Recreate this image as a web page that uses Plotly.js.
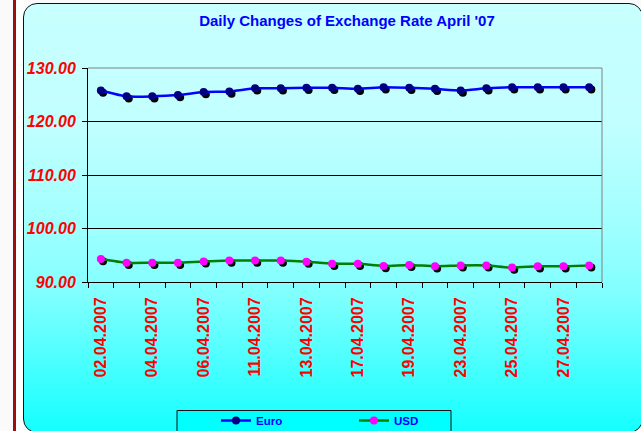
<!DOCTYPE html>
<html>
<head>
<meta charset="utf-8">
<script src="https://cdn.plot.ly/plotly-3.0.1.min.js"></script>
<style>
  html, body { margin: 0; padding: 0; background: #ffffff; overflow: hidden; }
  #wrap { position: relative; width: 641px; height: 431px; overflow: hidden; background: #fafafa; }
  #redbar { position: absolute; left: 13px; top: 0; width: 3px; height: 431px; background: #9a1010; }
  #gap { position: absolute; left: 16px; top: 0; width: 8px; height: 431px; background: #ffffff; }
  #box { position: absolute; left: 23px; top: 3px; width: 620px; height: 430px; box-sizing: border-box;
         border: 1.6px solid #111; border-radius: 14px;
         background: linear-gradient(to bottom, #c8ffff 0%, #c2ffff 28%, #a0ffff 52%, #80ffff 68%, #14ffff 100%); }
  #chart { position: absolute; left: 0; top: 0; width: 641px; height: 431px; }
  #chart g.y2tick text, #chart g.ytick text { font-style: italic !important; }
</style>
</head>
<body>
<div id="wrap">
  <div id="redbar"></div>
  <div id="gap"></div>
  <div id="box"></div>
  <div id="chart"></div>
</div>
<script>
const dates = ['02.04.2007','03.04.2007','04.04.2007','05.04.2007','06.04.2007','10.04.2007','11.04.2007',
  '12.04.2007','13.04.2007','16.04.2007','17.04.2007','18.04.2007','19.04.2007','20.04.2007','23.04.2007',
  '24.04.2007','25.04.2007','26.04.2007','27.04.2007','30.04.2007'];
const tickLabels = ['02.04.2007','','04.04.2007','','06.04.2007','','11.04.2007','','13.04.2007','',
  '17.04.2007','','19.04.2007','','23.04.2007','','25.04.2007','','27.04.2007',''];
const euro = [125.8,124.7,124.7,124.95,125.5,125.6,126.2,126.2,126.3,126.3,126.1,126.4,126.3,126.1,125.8,126.2,126.4,126.4,126.4,126.4];
const usd  = [94.3,93.6,93.6,93.6,93.85,94.0,94.0,94.0,93.8,93.4,93.4,93.0,93.2,92.95,93.1,93.1,92.7,92.95,92.95,93.1];
const yTicks = [90,100,110,120,130];
const seriesNames = ['Euro','USD'];

const W = 641, H = 431;
const M = {l: 88, r: 39, t: 68, b: 149};
const plotW = W - M.l - M.r, plotH = H - M.t - M.b;
const xRange = [-0.5, dates.length - 0.5];
const yRange = [90, 130];
const shadowPx = 2.2;
const sx = shadowPx * (xRange[1] - xRange[0]) / plotW;
const sy = shadowPx * (yRange[1] - yRange[0]) / plotH;

const FONT = 'Arial, "Liberation Sans", sans-serif';

const traces = [
  {x: dates, y: euro, xaxis: 'x', yaxis: 'y', type: 'scatter', mode: 'markers', showlegend: false, hoverinfo: 'skip',
   marker: {color: '#000000', size: 8}},
  {x: dates, y: usd, xaxis: 'x', yaxis: 'y', type: 'scatter', mode: 'markers', showlegend: false, hoverinfo: 'skip',
   marker: {color: '#000000', size: 8}},
  {x: dates, y: euro, name: seriesNames[0], xaxis: 'x2', yaxis: 'y2', type: 'scatter', mode: 'lines+markers',
   line: {color: '#0000ff', width: 2.5, shape: 'spline', smoothing: 0.6},
   marker: {color: '#000080', size: 8}},
  {x: dates, y: usd, name: seriesNames[1], xaxis: 'x2', yaxis: 'y2', type: 'scatter', mode: 'lines+markers',
   line: {color: '#008000', width: 2.5, shape: 'spline', smoothing: 0.6},
   marker: {color: '#ff00ff', size: 8}}
];

const layout = {
  width: W, height: H,
  margin: M,
  paper_bgcolor: 'rgba(0,0,0,0)',
  plot_bgcolor: 'rgba(0,0,0,0)',
  font: {family: FONT},
  title: {text: "Daily Changes of Exchange Rate April '07", x: 347 / W, xref: 'container', xanchor: 'center',
          y: 1 - 21 / H, yref: 'container', yanchor: 'middle',
          font: {family: FONT, size: 15, color: '#0000ff', weight: 'bold'}},
  xaxis: {type: 'category', categoryarray: dates, range: [xRange[0] - sx, xRange[1] - sx], visible: false, fixedrange: true},
  yaxis: {range: [yRange[0] + sy, yRange[1] + sy], visible: false, fixedrange: true},
  xaxis2: {type: 'category', categoryarray: dates, overlaying: 'x', anchor: 'y2', range: xRange,
           tickmode: 'array', tickvals: dates, ticktext: tickLabels, tickson: 'boundaries',
           ticks: 'outside', ticklen: 5, tickcolor: '#000', tickwidth: 1, tickangle: -90, ticklabelstandoff: 8,
           tickfont: {family: FONT, size: 16, color: '#ff0000', weight: 'bold'},
           showline: true, linecolor: '#000', linewidth: 1, showgrid: false, zeroline: false, fixedrange: true,
           automargin: false},
  yaxis2: {overlaying: 'y', anchor: 'x2', range: yRange, tickmode: 'array', tickvals: yTicks, tickformat: '.2f',
           ticks: 'outside', ticklen: 5, tickcolor: '#000', tickwidth: 1, ticklabelstandoff: 3,
           tickfont: {family: FONT, size: 16, color: '#ff0000', weight: 'bold', style: 'italic'},
           showline: true, linecolor: '#000', linewidth: 1, showgrid: true, gridcolor: '#000', gridwidth: 1,
           zeroline: false, fixedrange: true, automargin: false},
  shapes: [
    {type: 'path', xref: 'paper', yref: 'paper', path: 'M 0 1 L 1 1 L 1 0', line: {color: '#808080', width: 1}, layer: 'above'},
    {type: 'rect', xref: 'paper', yref: 'paper', x0: (177 - M.l) / plotW, x1: (451 - M.l) / plotW,
     y0: -(H + 4 - M.t - plotH) / plotH, y1: -(410.5 - M.t - plotH) / plotH,
     fillcolor: '#00ffff', line: {color: '#111', width: 1}, layer: 'below'}
  ],
  legend: {orientation: 'h', xref: 'container', yref: 'container', x: 216 / W, xanchor: 'left',
           y: 1 - 406 / H, yanchor: 'top', bgcolor: 'rgba(0,0,0,0)', borderwidth: 0,
           entrywidth: 93, entrywidthmode: 'pixels',
           font: {family: FONT, size: 11.5, color: '#0000ff', weight: 'bold'}},
  hovermode: false
};

Plotly.newPlot('chart', traces, layout, {displayModeBar: false, staticPlot: true});
</script>
</body>
</html>
